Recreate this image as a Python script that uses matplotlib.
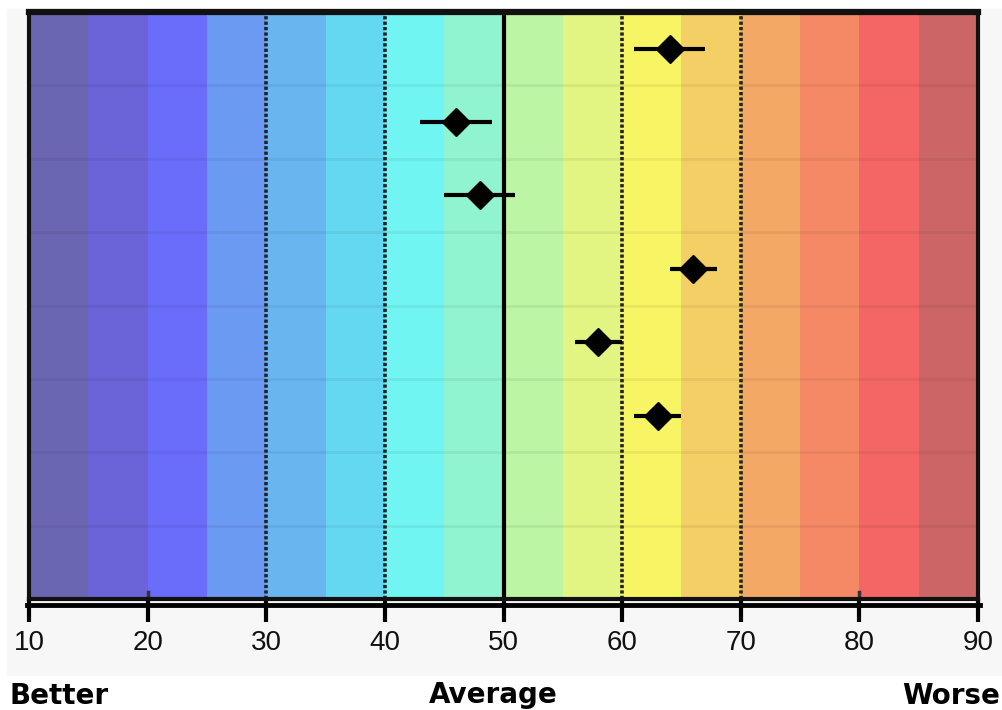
import matplotlib.pyplot as plt
import numpy as np
from matplotlib.patches import Rectangle
from matplotlib.lines import Line2D

# score scale
band_edges = np.arange(10, 95, 5)
band_colors = ['#6b66b2', '#6a64d8', '#6a6cfa', '#6b9af3', '#68b5f0', '#64d8f0',
               '#70f5f3', '#90f4d0', '#bcf5a3', '#e2f582', '#f8f565', '#f4cf66',
               '#f4a865', '#f58865', '#f46666', '#cc6666']
n_rows = 8

# estimates with lower / upper bounds (one per row, top to bottom)
scores = [64, 46, 48, 66, 58, 63]
lower = [61, 43, 45, 64, 56, 61]
upper = [67, 49, 51, 68, 60, 65]

dashed_refs = [30, 40, 60, 70]
solid_ref = 50
tick_values = [10, 20, 30, 40, 50, 60, 70, 80, 90]

fig = plt.figure(figsize=(10.03, 7.10), dpi=100)
fig.patches.append(Rectangle((7 / 1003, 1 - 675 / 710), 1, 666 / 710,
                             transform=fig.transFigure, color='#f7f7f7', zorder=-5))

ax = fig.add_axes([29 / 1003, 1 - 599 / 710, 949 / 1003, 587 / 710])
ax.set_xlim(10, 90)
ax.set_ylim(n_rows, 0)

for i, c in enumerate(band_colors):
    ax.axvspan(band_edges[i], band_edges[i + 1], color=c, lw=0, zorder=0)

for r in range(1, n_rows):
    ax.axhline(r, color='k', alpha=0.055, lw=2, zorder=1)

for v in dashed_refs:
    ax.axvline(v, color='#222222', lw=2.6, ls=(0, (0.9, 0.6)), zorder=2)
ax.axvline(solid_ref, color='black', lw=3, zorder=2)

# little marks inside the bottom edge
for v in [20, 80]:
    ax.plot([v, v], [n_rows, n_rows - 0.1], color='#333333', lw=2.5, zorder=2)

y = np.arange(len(scores)) + 0.5
s = np.array(scores)
xerr = [s - np.array(lower), np.array(upper) - s]
ax.errorbar(s, y, xerr=xerr, fmt='D', color='black', ms=14, elinewidth=3,
            capsize=0, zorder=5)

for sp in ax.spines.values():
    sp.set_linewidth(3)
    sp.set_color('#111111')
ax.spines['top'].set_linewidth(4.5)

ax.set_yticks([])
ax.set_xticks(tick_values)
ax.tick_params(axis='x', direction='out', length=16.5, width=3, color='black',
               pad=6, labelsize=20)
for lab in ax.get_xticklabels():
    lab.set_family('Liberation Sans')
    lab.set_color('#111111')

fig.add_artist(Line2D([27 / 1003, 980 / 1003], [1 - 604.5 / 710] * 2,
                      transform=fig.transFigure, color='black', lw=3.5))

fig.text(10 / 1003, 1 - 704 / 710, 'Better', fontsize=20, fontweight='bold',
         ha='left', va='baseline')
fig.text(493 / 1003, 1 - 703 / 710, 'Average', fontsize=20, fontweight='bold',
         ha='center', va='baseline')
fig.text(1000 / 1003, 1 - 704 / 710, 'Worse', fontsize=20, fontweight='bold',
         ha='right', va='baseline')

fig.savefig('out.png', dpi=100)
